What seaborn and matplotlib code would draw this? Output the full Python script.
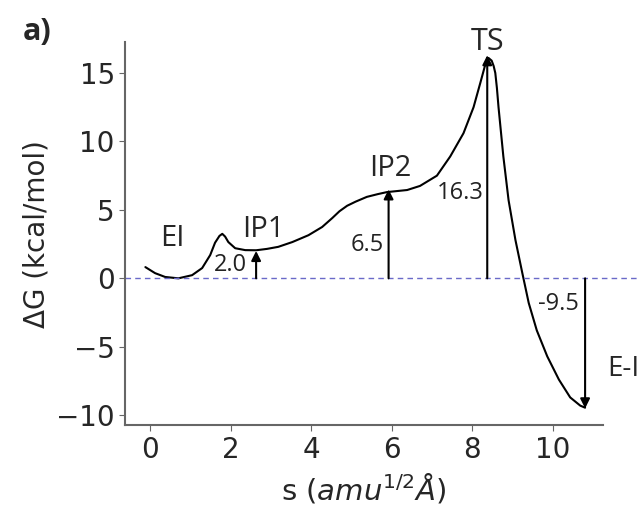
import numpy as np
import pandas as pd
import seaborn as sns
import matplotlib.pyplot as plt

# Free energy profile along the reaction coordinate
s_vals = [-0.12, 0.12, 0.37, 0.7, 1.04, 1.29, 1.49, 1.61, 1.72, 1.79, 1.86,
          1.94, 2.11, 2.36, 2.63, 2.9, 3.18, 3.53, 3.93, 4.27, 4.52, 4.7,
          4.89, 5.1, 5.38, 5.65, 5.88, 6.38, 6.7, 7.12, 7.45, 7.78, 8.03,
          8.2, 8.32, 8.4, 8.48, 8.53, 8.57, 8.61, 8.65, 8.71, 8.77, 8.9,
          9.07, 9.24, 9.4, 9.6, 9.86, 10.15, 10.43, 10.68, 10.8]
dg_vals = [0.82, 0.38, 0.1, 0.0, 0.23, 0.75, 1.7, 2.6, 3.1, 3.25, 3.05,
           2.65, 2.2, 2.06, 2.05, 2.15, 2.3, 2.65, 3.15, 3.75, 4.4, 4.9,
           5.3, 5.6, 5.95, 6.15, 6.3, 6.45, 6.75, 7.5, 8.9, 10.6, 12.5,
           14.3, 15.6, 16.1, 15.9, 15.5, 15.0, 13.9, 12.5, 10.7, 8.9, 5.7,
           2.8, 0.4, -1.8, -3.8, -5.7, -7.4, -8.7, -9.3, -9.45]

# Stationary points: arrow position, energy, label
point_s = [2.63, 5.92, 8.37, 10.8]
point_dg = [2.0, 6.5, 16.3, -9.5]
value_labels = ["2.0", "6.5", "16.3", "-9.5"]

df = pd.DataFrame({"s": s_vals, "dG": dg_vals})

sns.set_style("ticks")
plt.rcParams['font.family'] = ['DejaVu Sans']

fig = plt.figure(figsize=(6.39, 5.05), dpi=100)
ax = fig.add_axes([0.196, 0.158, 0.748, 0.759])

sns.lineplot(data=df, x="s", y="dG", sort=False, estimator=None,
             color="black", lw=1.5, ax=ax, solid_joinstyle="round")

ax.set_xlim(-0.62, 11.25)
ax.set_ylim(-10.73, 17.27)
ax.set_xticks([0, 2, 4, 6, 8, 10])
ax.set_yticks([-10, -5, 0, 5, 10, 15])

# zero reference line runs past the axes
ax.plot([-0.62, 12.5], [0, 0], ls=(0, (4, 3)), color="#6a6ac8", lw=1,
        clip_on=False)

for xs, yv in zip(point_s, point_dg):
    ax.annotate("", xy=(xs, yv), xytext=(xs, 0),
                arrowprops=dict(arrowstyle="-|>", color="black", lw=1.5,
                                mutation_scale=14, shrinkA=0, shrinkB=0))

# labels
lab_font = "Open Sans"
ax.text(0.55, 2.9, "EI", fontsize=21, family=lab_font, ha="center", va="center")
ax.text(2.8, 3.6, "IP1", fontsize=21, family=lab_font, ha="center", va="center")
ax.text(5.96, 8.0, "IP2", fontsize=21, family=lab_font, ha="center", va="center")
ax.text(8.37, 17.3, "TS", fontsize=22, family=lab_font, ha="center", va="center",
        clip_on=False)
ax.text(11.35, -6.6, "E-I", fontsize=20, family=lab_font, ha="left", va="center",
        clip_on=False)

num_pos = [(1.99, 0.97), (5.39, 2.4), (7.7, 6.2), (10.14, -1.9)]
for (tx, ty), lab in zip(num_pos, value_labels):
    ax.text(tx, ty, lab, fontsize=17, family=lab_font, ha="center", va="center",
            color="#222222")

ax.set_xlabel(r"s ($amu^{1/2}\AA$)", fontsize=21, labelpad=6)
ax.set_ylabel("ΔG (kcal/mol)", fontsize=20)
ax.tick_params(labelsize=20, length=4, color="#666666")
for sp in ["left", "bottom"]:
    ax.spines[sp].set_color("#666666")
    ax.spines[sp].set_linewidth(1.5)
sns.despine(ax=ax)

fig.text(0.035, 0.92, "a)", fontsize=22, fontweight="bold", family=lab_font)

fig.savefig("out.png", dpi=100)
